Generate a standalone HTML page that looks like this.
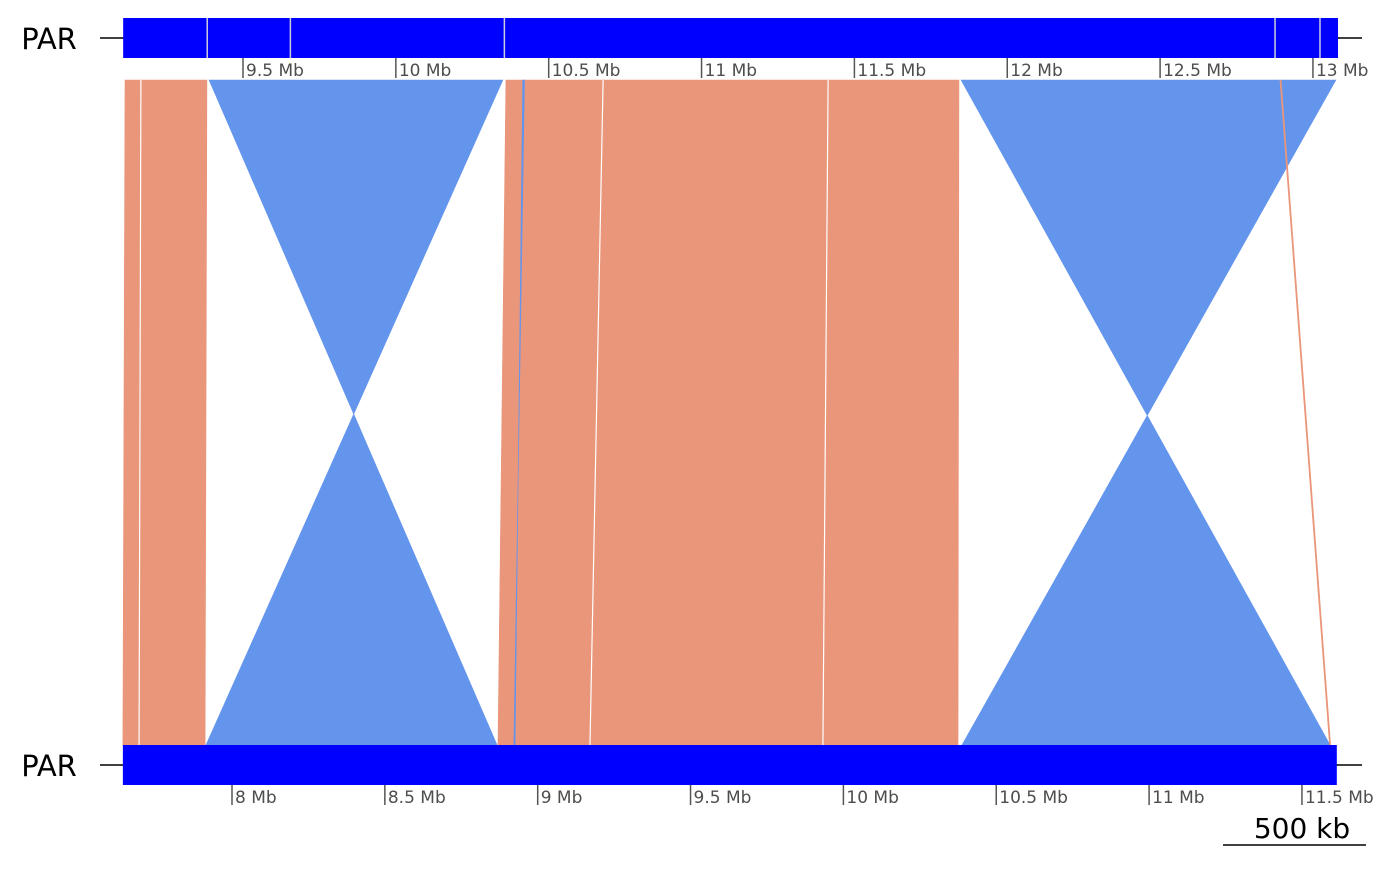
<!DOCTYPE html>
<html><head><meta charset="utf-8"><style>
body{margin:0;background:#fff}
svg text{font-family:"DejaVu Sans","Liberation Sans",sans-serif}
</style></head><body>
<svg id="chart" width="1400" height="865" xmlns="http://www.w3.org/2000/svg"></svg>
<script>
const topTicks=[9.5,10,10.5,11,11.5,12,12.5,13];
const botTicks=[8,8.5,9,9.5,10,10.5,11,11.5];
const topBar=[9.108,13.082];
const botBar=[7.643,11.614];
const topGaps=[9.383,9.655,10.355,12.876,13.023];
const linkTopStart=[9.114,9.166,9.389,10.360,10.678,11.414,11.849,12.892,10.415];
const linkTopEnd=[9.166,9.382,10.350,10.678,11.414,11.842,13.075,12.896,10.421];
const linkBotStart=[7.643,7.696,7.915,8.870,9.171,9.933,10.388,11.590,8.922];
const linkBotEnd=[7.696,7.912,8.867,9.171,9.933,10.375,11.592,11.594,8.926];
const linkStrand=["+","+","-","+","+","+","-","+","-"];
const pxPerMb=305.7;
const xTop=v=>243+(v-9.5)*pxPerMb;
const xBot=v=>232+(v-8)*pxPerMb;
const svg=document.getElementById('chart');
const NS='http://www.w3.org/2000/svg';
function mk(t,a){const e=document.createElementNS(NS,t);for(const k in a)e.setAttribute(k,a[k]);svg.appendChild(e);return e;}
for(let i=0;i<linkTopStart.length;i++){
 const a=xTop(linkTopStart[i]),b=xTop(linkTopEnd[i]),c=xBot(linkBotStart[i]),d=xBot(linkBotEnd[i]);
 const inv=linkStrand[i]==='-';
 const pts=inv?`${a},80 ${b},80 ${c},745 ${d},745`:`${a},80 ${b},80 ${d},745 ${c},745`;
 const p=mk('polygon',{points:pts,fill:inv?'#6495ED':'#E9967A',stroke:inv?'#6495ED':'#E9967A','stroke-width':0.6});
 
 
}
// white separators between adjacent links
[[3,4],[4,5],[0,1]].forEach(([i,j])=>{
 let s=mk('line',{x1:xTop(linkTopEnd[i]),y1:80,x2:xBot(linkBotEnd[i]),y2:745,stroke:'#fff','stroke-width':1.2});
 
});
function track(y,bar,xf,ticks,name,gaps){
 let l=mk('line',{x1:100,x2:1362,y1:y+20,y2:y+20,stroke:'#000','stroke-width':1.5});
 
 let r=mk('rect',{x:xf(bar[0]),y:y,width:xf(bar[1])-xf(bar[0]),height:40,fill:'#0000FF'});
 
 (gaps||[]).forEach(g=>{let gl=mk('line',{x1:xf(g),x2:xf(g),y1:y,y2:y+40,stroke:'#ccd',"stroke-width":1.5});
  });
 let t=mk('text',{x:49,y:y+31,'font-size':29,'text-anchor':'middle',fill:'#000'});t.textContent='PAR';
 
 ticks.forEach(v=>{const x=xf(v);
  let tl=mk('line',{x1:x,x2:x,y1:y+40,y2:y+60,stroke:'#555','stroke-width':1.5});
  
  let tx=mk('text',{x:x+3,y:y+58,'font-size':17,fill:'#4d4d4d'});tx.textContent=v+' Mb';
  });
}
track(18,topBar,xTop,topTicks,'top-track',topGaps);
track(745,botBar,xBot,botTicks,'bottom-track',[]);
let sb=mk('line',{x1:1223,x2:1366,y1:845,y2:845,stroke:'#000','stroke-width':1.5});

let st=mk('text',{x:1302,y:838,'font-size':28,'text-anchor':'middle',fill:'#000'});st.textContent='500 kb';

</script>
</body></html>
